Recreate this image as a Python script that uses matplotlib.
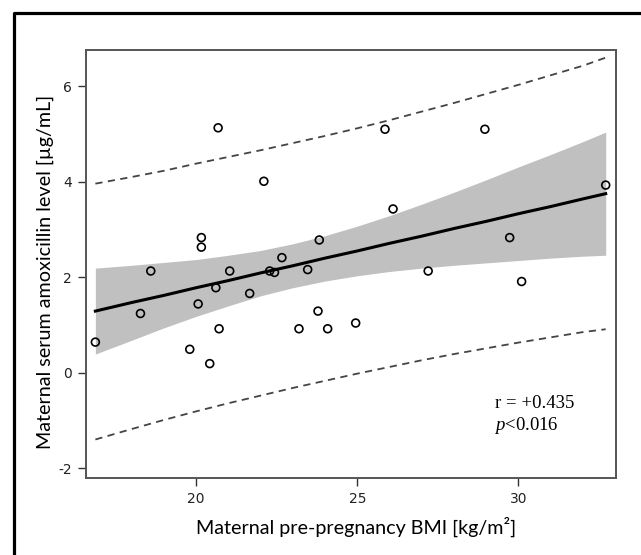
import matplotlib
matplotlib.use("Agg")
import matplotlib.pyplot as plt
from matplotlib.lines import Line2D

plt.rcParams['mathtext.fontset'] = 'custom'
plt.rcParams['mathtext.it'] = 'Liberation Serif:italic'
plt.rcParams['mathtext.rm'] = 'Liberation Serif'
plt.rcParams['axes.unicode_minus'] = False

# observed points (BMI, amoxicillin level)
bmi = [16.87, 18.27, 18.59, 19.80, 20.06, 20.16, 20.16, 20.42, 20.61, 20.68,
       20.71, 21.04, 21.66, 22.10, 22.28, 22.43, 22.66, 23.19, 23.46, 23.78,
       23.82, 24.08, 24.95, 25.86, 26.11, 27.20, 28.96, 29.73, 30.10, 32.71]
amox = [0.64, 1.24, 2.13, 0.49, 1.44, 2.83, 2.63, 0.19, 1.78, 5.13,
        0.92, 2.13, 1.66, 4.01, 2.13, 2.10, 2.41, 0.92, 2.16, 1.29,
        2.78, 0.92, 1.04, 5.10, 3.43, 2.13, 5.10, 2.83, 1.91, 3.93]

# regression line, confidence band and prediction limits
grid_x = [16.87, 18, 19, 20, 21, 22, 23, 24, 25, 26, 27, 28, 29, 30, 31, 32, 32.71]
fit_y = [1.29, 1.47, 1.62, 1.78, 1.93, 2.09, 2.24, 2.40, 2.55, 2.71, 2.86,
         3.02, 3.17, 3.33, 3.48, 3.64, 3.75]
ci_lo = [0.39, 0.68, 0.94, 1.18, 1.40, 1.61, 1.78, 1.92, 2.03, 2.12, 2.19,
         2.25, 2.30, 2.35, 2.40, 2.44, 2.46]
ci_hi = [2.19, 2.25, 2.31, 2.37, 2.46, 2.56, 2.70, 2.87, 3.07, 3.29, 3.53,
         3.78, 4.04, 4.31, 4.57, 4.84, 5.04]
pi_lo = [-1.40, -1.18, -0.99, -0.81, -0.64, -0.48, -0.32, -0.17, -0.02, 0.12,
         0.26, 0.39, 0.51, 0.63, 0.74, 0.85, 0.91]
pi_hi = [3.96, 4.10, 4.23, 4.38, 4.52, 4.66, 4.81, 4.96, 5.12, 5.29, 5.47,
         5.65, 5.84, 6.03, 6.23, 6.43, 6.60]

x_ticks = [20, 25, 30]
y_ticks = [-2, 0, 2, 4, 6]

fig = plt.figure(figsize=(6.41, 5.55), dpi=100)
ax = fig.add_axes([0.1342, 0.1393, 0.8268, 0.7706])

ax.fill_between(grid_x, ci_lo, ci_hi, color='#c0c0c0', lw=0, zorder=1)
ax.plot(grid_x, fit_y, color='black', lw=2.2, zorder=3)
ax.plot(grid_x, pi_lo, color='#444444', lw=1.3, ls=(0, (4, 3)), zorder=2)
ax.plot(grid_x, pi_hi, color='#444444', lw=1.3, ls=(0, (4, 3)), zorder=2)
ax.scatter(bmi, amox, s=32, facecolors='none', edgecolors='black',
           linewidths=1.2, zorder=4)

ax.set_xlim(16.58, 33.03)
ax.set_ylim(-2.2, 6.76)
ax.set_xticks(x_ticks)
ax.set_yticks(y_ticks)
ax.tick_params(direction='out', length=6, width=1, color='#333333',
               labelsize=10, labelcolor='#222222', pad=4)
for lab in ax.get_xticklabels() + ax.get_yticklabels():
    lab.set_family('Liberation Sans Narrow')
for side in ['left', 'bottom', 'right', 'top']:
    ax.spines[side].set_color('#555555')
    ax.spines[side].set_linewidth(1.4)

ax.set_xlabel('Maternal pre-pregnancy BMI [kg/m²]', family='Lato',
              fontsize=14.2)
ax.xaxis.set_label_coords(0.509, -0.115)
ax.xaxis.label.set_verticalalignment('center')
ax.set_ylabel('Maternal serum amoxicillin level [µg/mL]', family='Lato',
              fontsize=14.2)
ax.yaxis.set_label_coords(-0.0774, 0.481)
ax.yaxis.label.set_verticalalignment('center')

ax.text(0.772, 0.163, 'r = +0.435', transform=ax.transAxes,
        family='Liberation Serif', fontsize=13.5)
ax.text(0.770, 0.112, r'$\mathit{p}$<0.016', transform=ax.transAxes,
        family='Liberation Serif', fontsize=13.5)

# outer frame (runs off the right and bottom edges)
fig.add_artist(Line2D([0.0218, 0.0218, 1.01], [-0.01, 0.9765, 0.9765],
                      transform=fig.transFigure, color='black', lw=2.3))

fig.savefig('out.png', dpi=100)
